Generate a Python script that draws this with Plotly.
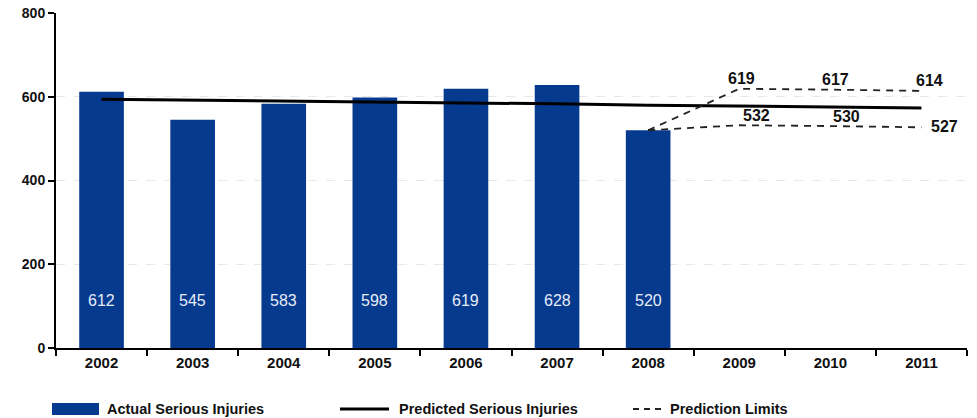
import plotly.graph_objects as go

years = ["2002", "2003", "2004", "2005", "2006", "2007", "2008", "2009", "2010", "2011"]
actual_years = ["2002", "2003", "2004", "2005", "2006", "2007", "2008"]
actual = [612, 545, 583, 598, 619, 628, 520]
predicted = [594, 592, 590, 587, 585, 583, 580, 578, 576, 573]
limit_years = ["2008", "2009", "2010", "2011"]
upper_limit = [520, 619, 617, 614]
lower_limit = [520, 532, 530, 527]
y_ticks = [0, 200, 400, 600, 800]
legend_labels = ["Actual Serious Injuries", "Predicted Serious Injuries", "Prediction Limits"]

BAR = "#063a8f"
FONT = "Liberation Sans, Arial, sans-serif"

def idx(yr):
    return years.index(yr)

fig = go.Figure()
fig.add_trace(go.Bar(x=actual_years, y=actual, marker=dict(color=BAR, line=dict(width=0)),
                     width=0.49, hoverinfo="skip"))
fig.add_trace(go.Scatter(x=years, y=predicted, mode="lines",
                         line=dict(color="black", width=3)))
fig.add_trace(go.Scatter(x=limit_years, y=upper_limit, mode="lines",
                         line=dict(color="#222", width=1.8, dash="7px,6px")))
fig.add_trace(go.Scatter(x=limit_years, y=lower_limit, mode="lines",
                         line=dict(color="#222", width=1.8, dash="7px,6px")))

ann = []
# values inside bars
for yr, v in zip(actual_years, actual):
    ann.append(dict(x=idx(yr), y=113, text=str(v), showarrow=False,
                    font=dict(family=FONT, size=16, color="#e6ecf7")))
# prediction limit labels
up_shift = [None, 2, 5, 8]
lo_shift = [None, 17, 16, None]
for i in range(1, 4):
    ann.append(dict(x=idx(limit_years[i]), y=upper_limit[i], text=str(upper_limit[i]), showarrow=False,
                    xshift=up_shift[i], yshift=10,
                    font=dict(family=FONT, size=16, color="#111", weight="bold")))
for i in range(1, 3):
    ann.append(dict(x=idx(limit_years[i]), y=lower_limit[i], text=str(lower_limit[i]), showarrow=False,
                    xshift=lo_shift[i], yshift=10,
                    font=dict(family=FONT, size=16, color="#111", weight="bold")))
ann.append(dict(x=idx(limit_years[3]), y=lower_limit[3], text=str(lower_limit[3]), showarrow=False,
                xanchor="left", xshift=8, yshift=1,
                font=dict(family=FONT, size=16, color="#111", weight="bold")))

# custom legend (page pixel positions converted to paper fractions)
L = 56.0
W = 911.0
B = 348.0
H = 335.0
def px(x):
    return (x - L) / W
def py(y):
    return (B - y) / H

shapes = [
    dict(type="rect", xref="paper", yref="paper", x0=px(52), x1=px(99), y0=py(415), y1=py(403),
         fillcolor=BAR, line=dict(width=0)),
    dict(type="line", xref="paper", yref="paper", x0=px(340), x1=px(389), y0=py(409), y1=py(409),
         line=dict(color="black", width=3)),
    dict(type="line", xref="paper", yref="paper", x0=px(633), x1=px(663), y0=py(409), y1=py(409),
         line=dict(color="#222", width=1.8, dash="6px,5px")),
]
for x0, t in zip([105, 397, 668], legend_labels):
    ann.append(dict(xref="paper", yref="paper", x=px(x0), y=py(409), text=t, showarrow=False,
                    xanchor="left", yanchor="middle",
                    font=dict(family=FONT, size=14.5, color="#111", weight="bold")))

fig.update_layout(
    width=977, height=418,
    margin=dict(l=56, r=10, t=13, b=70, autoexpand=False),
    paper_bgcolor="white", plot_bgcolor="white",
    showlegend=False,
    annotations=ann, shapes=shapes,
    font=dict(family=FONT, color="#111"),
    bargap=0.5,
)
fig.update_xaxes(type="category", categoryorder="array", categoryarray=years,
                 range=[-0.5, 9.5],
                 showline=True, linecolor="black", linewidth=2,
                 ticks="outside", tickson="boundaries", ticklen=6, tickwidth=2, tickcolor="black",
                 tickangle=0,
                 tickfont=dict(family=FONT, size=15, color="#111", weight="bold"),
                 showgrid=False, zeroline=False)
fig.update_yaxes(range=[0, 800], tickvals=y_ticks,
                 showline=True, linecolor="black", linewidth=2,
                 ticks="outside", ticklen=6, tickwidth=2, tickcolor="black",
                 tickfont=dict(family=FONT, size=14, color="#111", weight="bold"),
                 showgrid=True, gridcolor="#e8e8e8", gridwidth=1, griddash="dash",
                 zeroline=False)

fig.write_html("out.html", config={"displayModeBar": False},
               post_script="document.body.style.margin='0px';")
